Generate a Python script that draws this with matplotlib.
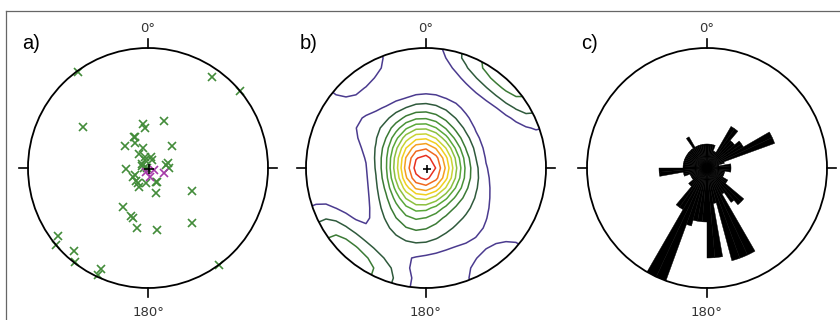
import numpy as np
import matplotlib
matplotlib.use("Agg")
import matplotlib.pyplot as plt
from matplotlib.patches import Circle
from matplotlib.lines import Line2D

# a) poles to planes, lower hemisphere (trend, plunge in degrees)
pole_trend = [324, 35, 50, 302, 353, 356, 19, 336, 314, 332, 48, 346, 328, 17,
              338, 76, 81, 90, 268, 288, 270, 241, 221, 206, 186, 152, 118, 163,
              213, 199, 197, 190, 172, 141, 233, 230, 222, 218, 205, 205, 144,
              345, 25, 306, 266, 215, 148, 239, 337]
pole_plunge = [1, 8, 0, 36, 60, 63, 56, 67, 68, 71, 68, 76, 79, 82,
               84, 76, 78, 76, 75, 86, 89, 80, 78, 76, 80, 79, 56, 72,
               58, 55, 54, 48, 47, 41, 7, 0, 8, 1, 8, 2, 0,
               82, 84, 85, 87, 78, 79, 78, 67]
# second set (purple) and mean pole
set2_trend = [111, 167, 107, 200]
set2_plunge = [86, 84, 79, 87]
mean_trend = [120]
mean_plunge = [89]

# c) rose diagram, 5 degree bins
bin_start = list(range(0, 360, 5))
bin_count = [4, 4, 4, 4, 3, 3, 8, 8, 6, 6, 7, 7,
             12, 12, 3, 2, 4, 4, 4, 4, 3, 3, 3, 3,
             4, 4, 8, 8, 7, 5, 16, 16, 16, 6, 15, 15,
             9, 9, 9, 10, 20, 20, 8, 8, 4, 4, 3, 3,
             3, 3, 4, 4, 8, 8, 4, 4, 4, 4, 4, 4,
             4, 4, 4, 4, 4, 6, 4, 4, 4, 4, 4, 4]

# b) contour levels as fraction of the peak density
level_frac = [0.05, 0.11, 0.19, 0.27, 0.35, 0.43, 0.52, 0.61, 0.70, 0.80, 0.90]
contour_colors = ['#4b3b8f', '#2f5a3c', '#3b7a35', '#4a9238', '#5aa83a', '#8cc040',
                  '#c8d435', '#f0d020', '#f4a020', '#f06a20', '#e83020']


def project(trend, plunge):
    t = np.radians(trend)
    r = np.sqrt(2) * np.sin(np.radians(90 - np.asarray(plunge, float)) / 2)
    return r * np.sin(t), r * np.cos(t)


def to_vectors(trend, plunge):
    t = np.radians(trend)
    p = np.radians(plunge)
    return np.column_stack([np.cos(p) * np.sin(t), np.cos(p) * np.cos(t), np.sin(p)])


def density_grid(trend, plunge, n_nodes=25, sigma=2.6):
    # exponential Kamb smoothing on a regular grid of the net
    xs = np.linspace(-1, 1, n_nodes)
    gx, gy = np.meshgrid(xs, xs)
    r = np.clip(np.hypot(gx, gy), 0, 1)
    colat = 2 * np.arcsin(r / np.sqrt(2))
    az = np.arctan2(gx, gy)
    nodes = np.stack([np.sin(colat) * np.sin(az), np.sin(colat) * np.cos(az), np.cos(colat)], -1)
    v = to_vectors(trend, plunge)
    cosd = np.abs(nodes @ v.T)
    n = len(trend)
    f = 2 * (1 + n / sigma**2)
    count = np.exp(f * (cosd - 1)).sum(-1)
    units = np.sqrt(n * (f / 2 - 1) / f**2)
    return gx, gy, count / units


def net_frame(ax, letter):
    ax.set_xlim(-1, 1)
    ax.set_ylim(-1, 1)
    ax.set_aspect('equal')
    ax.axis('off')
    ax.add_patch(Circle((0, 0), 1, fill=False, lw=1.3, color='black', clip_on=False, zorder=5))
    tk = 0.075
    for x0, y0, x1, y1 in [(0, 1, 0, 1 + tk), (0, -1, 0, -1 - tk), (1, 0, 1 + tk, 0), (-1, 0, -1 - tk, 0)]:
        ax.plot([x0, x1], [y0, y1], color='black', lw=1.2, clip_on=False)
    ax.text(0, 1.165, '0°', ha='center', va='center', fontsize=9.5, color='#333333')
    ax.text(0, -1.2, '180°', ha='center', va='center', fontsize=9.5, color='#333333')
    ax.text(-1.05, 1.04, letter, ha='left', va='center', fontsize=14.5,
            family='Liberation Sans', color='black')


fig = plt.figure(figsize=(8.4, 3.2), dpi=100)
centers = [148, 426, 707]
axes = []
for cx in centers:
    axes.append(fig.add_axes([(cx - 120) / 840, (320 - 168 - 120) / 320, 240 / 840, 240 / 320]))

# outer frame
fig.add_artist(Line2D([6 / 840, 1], [1 - 11 / 320, 1 - 11 / 320], color='#666666', lw=0.9))
fig.add_artist(Line2D([6 / 840, 6 / 840], [0, 1 - 11 / 320], color='#666666', lw=0.9))

# a) scatter
ax = axes[0]
net_frame(ax, 'a)')
x, y = project(pole_trend, pole_plunge)
ax.plot(x, y, 'x', color='#438c3a', ms=6, mew=1.2, clip_on=False)
x, y = project(set2_trend, set2_plunge)
ax.plot(x, y, 'x', color='#a53aa8', ms=6, mew=1.2)
x, y = project(mean_trend, mean_plunge)
ax.plot(x, y, '+', color='black', ms=7, mew=1.2)

# b) density contours
ax = axes[1]
net_frame(ax, 'b)')
gx, gy, dens = density_grid(pole_trend + set2_trend, pole_plunge + set2_plunge)
levels = np.array(level_frac) * dens.max()
cs = ax.contour(gx, gy, dens, levels=levels, colors=contour_colors, linewidths=1.1)
cs.set_clip_path(Circle((0, 0), 1, transform=ax.transData))
x, y = project(mean_trend, mean_plunge)
ax.plot(x, y, '+', color='black', ms=6, mew=1.2)

# c) rose diagram
ax = axes[2]
net_frame(ax, 'c)')
pax = fig.add_axes(ax.get_position(), projection='polar')
pax.set_theta_zero_location('N')
pax.set_theta_direction(-1)
pax.bar(np.radians(bin_start), bin_count, width=np.radians(5), align='edge',
        color='black', edgecolor='black', lw=0.3)
pax.set_ylim(0, max(bin_count))
pax.axis('off')

fig.savefig('out.png', dpi=100, facecolor='white')
